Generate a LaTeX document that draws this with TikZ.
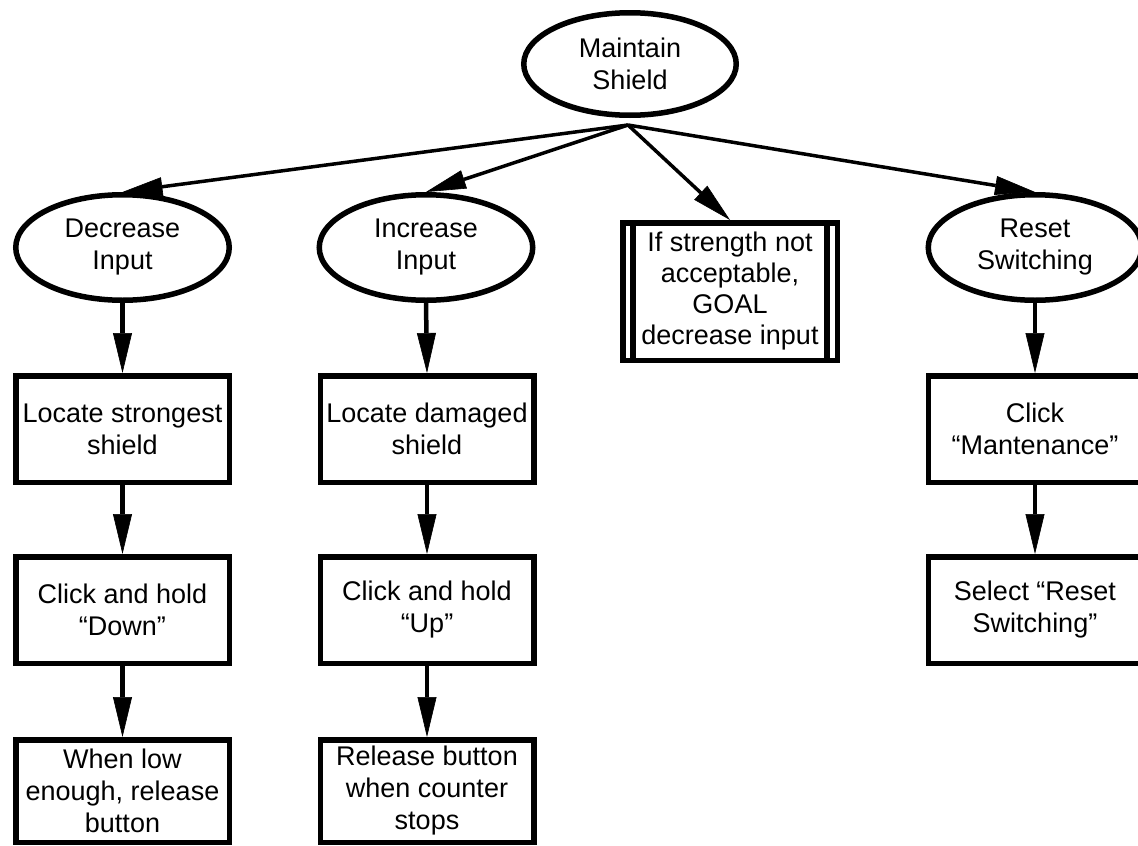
\documentclass[tikz,border=0pt]{standalone}
\usepackage{fontspec}
\setmainfont{Liberation Sans}
\usetikzlibrary{shapes.geometric,arrows.meta}
\tikzset{
  txt/.style={align=center,font=\fontsize{27}{32}\selectfont,inner sep=0pt},
  oval/.style={txt,ellipse,draw,line width=5.5pt,minimum width=213.5pt,minimum height=105.5pt},
  stepbox/.style={txt,rectangle,draw,line width=5.5pt,minimum width=213.5pt,minimum height=106.5pt},
  conn/.style={line width=4.5pt,-{Triangle[length=40pt,width=19pt,line width=0.6pt]}},
  diag/.style={line width=3.5pt,-{Triangle[length=40pt,width=19pt,line width=0.6pt]}}
}
\begin{document}
\begin{tikzpicture}[x=1pt,y=-1pt]
\clip (0,0) rectangle (1138,846);
\fill[white] (0,0) rectangle (1138,846);
% top
\node[oval,minimum width=212.5pt,minimum height=102.5pt] (top) at (630,64) {Maintain\\Shield};
\coordinate (hub) at (628,125);
% second row
\node[oval] (dec) at (122.5,247.5) {Decrease\\Input};
\node[oval] (inc) at (426,247.5) {Increase\\Input};
\node[oval] (rst) at (1035,247.5) {Reset\\Switching};
\node[txt,rectangle,draw,line width=5.5pt,minimum width=214.5pt,minimum height=137.5pt,font=\fontsize{27}{31}\selectfont] (goal) at (730,291.5) {If strength not\\acceptable,\\GOAL\\decrease input};
\draw[line width=5.5pt] ([xshift=13pt]goal.north west) -- ([xshift=13pt]goal.south west);
\draw[line width=5.5pt] ([xshift=-13pt]goal.north east) -- ([xshift=-13pt]goal.south east);
% column 1
\node[stepbox] (d1) at (122.5,429) {Locate strongest\\shield};
\node[stepbox] (d2) at (122.5,610) {Click and hold\\“Down”};
\node[stepbox,minimum height=102.5pt] (d3) at (122.5,791) {When low\\enough, release\\button};
% column 2
\node[stepbox] (i1) at (427,429) {Locate damaged\\shield};
\node[stepbox] (i2) at (427,610) {Click and hold\\“Up”};
\node[stepbox,minimum height=102.5pt] (i3) at (427,791) {Release button\\when counter\\stops};
% column 4
\node[stepbox] (r1) at (1035,429) {Click\\“Mantenance”};
\node[stepbox] (r2) at (1035,610) {Select “Reset\\Switching”};
% connectors
\draw[diag] (hub) -- (dec.north);
\draw[diag] (hub) -- (inc.north);
\draw[diag] (hub) -- (goal.north);
\draw[diag] (hub) -- (rst.north);
\draw[conn] (dec.south) -- (d1.north);
\draw[conn] (d1.south) -- (d2.north);
\draw[conn] (d2.south) -- (d3.north);
\draw[conn] (inc.south) -- (i1.north);
\draw[conn] (i1.south) -- (i2.north);
\draw[conn] (i2.south) -- (i3.north);
\draw[conn] (rst.south) -- (r1.north);
\draw[conn] (r1.south) -- (r2.north);
\end{tikzpicture}
\end{document}
